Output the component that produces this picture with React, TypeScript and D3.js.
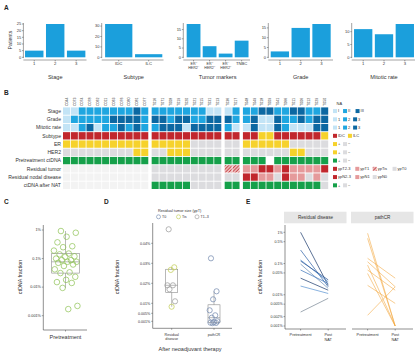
import React from 'react';
import * as d3 from 'd3';

const FONT = 'Liberation Sans, Arial, Helvetica, sans-serif';
const BAR = '#1b9fdc';
const AX = '#444';
const TXT = '#333';

// ---------- Panel A data ----------
const stageCats = ['1', '2', '3'];
const stageCounts = [5, 25, 5];
const subtypeCats = ['IDC', 'ILC'];
const subtypeCounts = [32, 3];
const markerCats = ['ER+HER2-', 'ER+HER2+', 'ER-HER2+', 'TNBC'];
const markerCounts = [18, 6, 2, 9];
const markerLabels = [['ER⁺', 'HER2⁻'], ['ER⁺', 'HER2⁺'], ['ER⁻', 'HER2⁺'], ['TNBC']];
const gradeCats = ['1', '2', '3'];
const gradeCounts = [3, 15, 17];
const mitoticCats = ['1', '2', '3'];
const mitoticCounts = [11, 9, 13];

// ---------- Panel B data ----------
const groupSizes = [11, 9, 2, 11];
const colIds = [
  'C044', 'C073', 'C074', 'C078', 'C062', 'C011', 'C063', 'C076', 'C080', 'C081', 'C077',
  'T016', 'T071', 'T008', 'T019', 'T020', 'T021', 'T015', 'T031', 'T013',
  'T036', 'T017',
  'T048', 'T049', 'T018', 'T009', 'T041', 'T066', 'T011', 'T006', 'T012', 'T029', 'T050',
];
const stageRow = ['1','1','2','2','2','2','2','2','2','3','2', '2','2','2','2','2','2','2','1','1', '1','2', '2','2','3','3','2','2','3','3','2','2','3'];
const gradeRow = ['1','2','2','2','2','2','3','3','3','3','2', '3','3','2','3','3','2','2','3','3', '3','2', '2','3','1','1','3','2','2','3','2','3','3'];
const mitoticRow = ['1','1','2','3','1','2','2','3','2','3','2', '2','3','3','3','1','3','3','3','3', '2','1', '1','3','1','1','3','2','1','1','1','3','3'];
const subtypeRow = ['IDC','IDC','IDC','IDC','IDC','IDC','IDC','IDC','IDC','IDC','IDC', 'IDC','IDC','IDC','IDC','IDC','IDC','IDC','IDC','IDC', 'IDC','IDC', 'IDC','IDC','ILC','ILC','IDC','IDC','IDC','IDC','IDC','IDC','ILC'];
const erRow = ['+','+','+','+','+','+','+','+','+','+','+', '+','+','+','+','+','-','-','-','-', '-','-', '+','+','+','+','+','+','-','-','-','-','-'];
const her2Row = ['-','-','-','-','-','-','-','-','-','+','+', '-','-','+','+','+','-','-','-','-', '-','-', '-','-','-','-','-','-','+','+','-','-','-'];
const pretxRow = ['+','+','+','+','+','+','+','+','+','+','+', '+','+','+','+','+','+','+','+','+', '+','+', '+','+','+','NA','+','+','+','+','+','+','+'];
const residRow = ['NA','NA','NA','NA','NA','NA','NA','NA','NA','NA','NA', 'T0','T0','T0','T0','T0','T0','T0','T0','T0', 'Tis','Tis', 'T1','T1','T23','T23','T1','T23','T1','T1','T1','T1','T23'];
const nodalRow = ['NA','NA','NA','NA','NA','NA','NA','NA','NA','NA','NA', 'N0','N0','N0','N0','N0','N0','N0','N0','N0', 'N0','N0', 'N23','N23','N1','N1','N0','N23','N1','N1','N0','N1','N0'];
const afterRow = ['NA','NA','NA','NA','NA','NA','NA','NA','NA','NA','NA', '+','+','+','+','+','-','-','-','-', '+','+', '+','+','+','+','+','+','+','+','+','+','-'];

// ---------- Panel C data (ctDNA fraction, %) ----------
const pretreatmentCtDNA = [0.92, 0.80, 0.58, 0.37, 0.27, 0.25, 0.19, 0.15, 0.14, 0.12, 0.116, 0.10, 0.088, 0.088, 0.077, 0.077, 0.071, 0.062, 0.055, 0.042, 0.033, 0.031, 0.023, 0.018, 0.015, 0.014, 0.0094, 0.0022, 0.0017];

// ---------- Panel D data ----------
const rdValues = [0.047, 0.028, 0.0267, 0.019, 0.019, 0.017, 0.011, 0.0083];
const rdSize = ['T1–3', 'Tis', 'Tis', 'T1–3', 'T1–3', 'T1–3', 'T1–3', 'Tis'];
const pcrValues = [0.0325, 0.016, 0.012, 0.0065, 0.004, 0.0028, 0.001, 0.0006, 0.0003, 0.0002, 0.0001];
const sizeLevels = ['T0', 'Tis', 'T1–3'];

// ---------- Panel E data ----------
const timepoints = ['Pretreatment', 'Post NAT'];
const rdPre = [1.0, 0.27, 0.13, 0.12, 0.096, 0.062, 0.034, 0.019, 0.0028];
const rdPost = [0.02, 0.018, 0.026, 0.03, 0.016, 0.023, 0.014, 0.011, 0.0077];
const pcrPre = [0.93, 0.64, 0.147, 0.114, 0.089, 0.062, 0.048, 0.02, 0.0022];
const pcrPost = [0.001, 0.001, 0.034, 0.018, 0.001, 0.014, 0.001, 0.0053, 0.018];

// ---------- colours ----------
const LV: Record<string, string> = { '1': '#c3e4f6', '2': '#1fa6e0', '3': '#0c68a2' };
const RED = '#c1272d';
const YEL = '#f6d22c';
const GRY = '#dcdcdf';
const GRN = '#15a04a';
const PINK = '#e59a9b';
const NAC = '#f3f3f3';

function BarChart(props: { cats: string[]; counts: number[]; labels: string[][]; title: string; range: [number, number]; axisX: number; axisEnd: number; ticks: number[]; pad: number }) {
  const { cats, counts, labels, title, range, axisX, axisEnd, ticks, pad } = props;
  const max = d3.max(counts) as number;
  const y = d3.scaleLinear().domain([0, max]).range([57.3, 24]);
  const x = d3.scaleBand<string>().domain(cats).range(range).paddingInner(pad).paddingOuter(0.03);
  return (
    <g>
      {cats.map((c, i) => (
        <rect key={c} x={x(c)} y={y(counts[i])} width={x.bandwidth()} height={y(0) - y(counts[i])} fill={BAR} />
      ))}
      <line x1={axisX} x2={axisX} y1={y(max) - 1} y2={y(0) + 0.8} stroke={AX} strokeWidth={0.5} />
      {ticks.map((t) => (
        <g key={t}>
          <line x1={axisX - 1.4} x2={axisX} y1={y(t)} y2={y(t)} stroke={AX} strokeWidth={0.5} />
          <text x={axisX - 2.2} y={y(t) + 1.4} fontSize={4} textAnchor="end" fill={TXT}>{t}</text>
        </g>
      ))}
      <line x1={axisX} x2={axisEnd} y1={60} y2={60} stroke={AX} strokeWidth={0.5} />
      {cats.map((c, i) => {
        const cx = (x(c) as number) + x.bandwidth() / 2;
        return (
          <g key={c}>
            <line x1={cx} x2={cx} y1={60} y2={61.4} stroke={AX} strokeWidth={0.5} />
            {labels[i].map((l, j) => (
              <text key={j} x={cx} y={64.6 + j * 4.3} fontSize={labels[i].length > 1 ? 3.6 : 4.2} textAnchor="middle" fill={TXT}>{l}</text>
            ))}
          </g>
        );
      })}
      <text x={(range[0] + range[1]) / 2} y={78.6} fontSize={5.6} textAnchor="middle" fill={TXT}>{title}</text>
    </g>
  );
}

function boxStats(vals: number[], tf: (v: number) => number) {
  const t = vals.map(tf).sort(d3.ascending);
  const q1 = d3.quantile(t, 0.25) as number;
  const med = d3.quantile(t, 0.5) as number;
  const q3 = d3.quantile(t, 0.75) as number;
  const iqr = q3 - q1;
  const lo = d3.min(t.filter((v) => v >= q1 - 1.5 * iqr)) as number;
  const hi = d3.max(t.filter((v) => v <= q3 + 1.5 * iqr)) as number;
  return { q1, med, q3, lo, hi };
}

const jit = (i: number, w: number) => (((i * 0.6180339 + 0.31) % 1) - 0.5) * w;

export default function App() {
  // ----- Panel B scales -----
  const rowLabels = ['Stage', 'Grade', 'Mitotic rate', 'Subtype', 'ER', 'HER2', 'Pretreatment ctDNA', 'Residual tumor', 'Residual nodal disease', 'ctDNA after NAT'];
  const rowVals = [stageRow, gradeRow, mitoticRow, subtypeRow, erRow, her2Row, pretxRow, residRow, nodalRow, afterRow];
  const rowColor = (r: number, v: string) => {
    if (v === 'NA') return r === 6 ? '#ffffff' : NAC;
    if (r <= 2) return LV[v];
    if (r === 3) return v === 'IDC' ? RED : YEL;
    if (r === 4 || r === 5) return v === '+' ? YEL : GRY;
    if (r === 6 || r === 9) return v === '+' ? GRN : GRY;
    if (v === 'T23' || v === 'N23') return RED;
    if (v === 'T1' || v === 'N1') return PINK;
    if (v === 'Tis') return 'url(#hatch)';
    return GRY;
  };
  const groupOf: number[] = [];
  groupSizes.forEach((n, g) => { for (let k = 0; k < n; k++) groupOf.push(g); });
  const xCol = d3.scaleBand<string>().domain(colIds).range([63, 63 + 33 * 7.8]).paddingInner(0.1);
  const colX = (i: number) => (xCol(colIds[i]) as number) + groupOf[i] * 2.6;
  const yRow = d3.scaleBand<string>().domain(rowLabels).range([107.4, 107.4 + 81.6]).paddingInner(0.11);

  const legendRows: [string, string][][] = [
    [[LV['1'], 'I'], [LV['2'], 'II'], [LV['3'], 'III']],
    [[LV['1'], '1'], [LV['2'], '2'], [LV['3'], '3']],
    [[LV['1'], '1'], [LV['2'], '2'], [LV['3'], '3']],
    [[RED, 'IDC'], [YEL, 'ILC']],
    [[YEL, '+'], [GRY, '−']],
    [[YEL, '+'], [GRY, '−']],
    [[GRN, '+'], [GRY, '−']],
    [[RED, 'ypT2-3'], [PINK, 'ypT1'], ['url(#hatch)', 'ypTis'], [GRY, 'ypT0']],
    [[RED, 'ypN2-3'], [PINK, 'ypN1'], [GRY, 'ypN0']],
    [[GRN, '+'], [GRY, '−']],
  ];

  // ----- Panel C -----
  const yC = d3.scaleLog().domain([0.001, 1]).range([315.7, 230]);
  const cStats = boxStats(pretreatmentCtDNA, Math.log10);
  const cX = 65.5;

  // ----- Panel D -----
  const yD = d3.scaleLinear().domain([0, 0.04]).range([323.3, 243.3]);
  const xD = d3.scalePoint<string>().domain(['Residual disease', 'pathCR']).range([171.7, 214]);
  const sizeColor = d3.scaleOrdinal<string, string>().domain(sizeLevels).range(['#7f93b5', '#c6d163', '#a3a3a3']);
  const dTicks = [0.001, 0.005, 0.01, 0.02, 0.03, 0.04];
  const dGroups = [
    { key: 'Residual disease', vals: rdValues, sizes: rdSize },
    { key: 'pathCR', vals: pcrValues, sizes: pcrValues.map(() => 'T0') },
  ];

  // ----- Panel E -----
  const yE = d3.scaleLog().domain([0.001, 1]).range([326, 232.3]);
  const eTicks = [1, 0.5, 0.1, 0.05, 0.01, 0.005, 0.002, 0.001];
  const eFacets = [
    { key: 'Residual disease', x0: 285, pre: rdPre, post: rdPost },
    { key: 'pathCR', x0: 352, pre: pcrPre, post: pcrPost },
  ];
  const xE = d3.scalePoint<string>().domain(timepoints).range([15.6, 43.2]);
  const rdColors = ['#1d3c6e', '#2f63a8', '#4a86c8', '#24508f', '#6d8fb8', '#3b74bb', '#1d3c6e', '#5b94d3', '#7b8896'];
  const lineGen = d3.line<[number, number]>().x((d) => d[0]).y((d) => d[1]);

  const pct = (v: number) => `${v}%`;

  return (
    <svg width={416} height={358} style={{ position: 'absolute', left: 0, top: 0, background: '#fff' }} fontFamily={FONT}>
      <defs>
        <pattern id="hatch" patternUnits="userSpaceOnUse" width={2.4} height={2.4} patternTransform="rotate(45)">
          <rect width={2.4} height={2.4} fill="#eab8b8" />
          <line x1={0} y1={0} x2={0} y2={2.4} stroke="#c1272d" strokeWidth={1.3} />
        </pattern>
      </defs>

      {/* ================= A ================= */}
      <text x={4} y={10} fontSize={6.5} fontWeight="bold" fill="#222">A</text>
      <text transform="translate(11.5,40) rotate(-90)" fontSize={5.2} textAnchor="middle" fill={TXT}>Patients</text>
      <BarChart cats={stageCats} counts={stageCounts} labels={stageCats.map((c) => [c])} title="Stage" range={[24.4, 86]} axisX={23.4} axisEnd={86.5} ticks={[0, 5, 10, 15, 20, 25]} pad={0.12} />
      <BarChart cats={subtypeCats} counts={subtypeCounts} labels={subtypeCats.map((c) => [c])} title="Subtype" range={[104.2, 163.2]} axisX={101.7} axisEnd={163.5} ticks={[0, 10, 20, 30]} pad={0.09} />
      <BarChart cats={markerCats} counts={markerCounts} labels={markerLabels} title="Tumor markers" range={[186.2, 249]} axisX={183.3} axisEnd={250} ticks={[0, 5, 10, 15]} pad={0.14} />
      <BarChart cats={gradeCats} counts={gradeCounts} labels={gradeCats.map((c) => [c])} title="Grade" range={[270.1, 331.3]} axisX={268.3} axisEnd={333} ticks={[0, 5, 10, 15]} pad={0.12} />
      <BarChart cats={mitoticCats} counts={mitoticCounts} labels={mitoticCats.map((c) => [c])} title="Mitotic rate" range={[353.4, 414.6]} axisX={351.7} axisEnd={415} ticks={[0, 5, 10]} pad={0.12} />

      {/* ================= B ================= */}
      <text x={4} y={95} fontSize={6.5} fontWeight="bold" fill="#222">B</text>
      {colIds.map((id, i) => (
        <text key={id} transform={`translate(${colX(i) + xCol.bandwidth() / 2 + 1.3},106) rotate(-90)`} fontSize={3.6} fill={TXT}>{id}</text>
      ))}
      {rowLabels.map((lab, r) => (
        <g key={lab}>
          <text x={61} y={(yRow(lab) as number) + yRow.bandwidth() / 2 + 1.8} fontSize={5.1} textAnchor="end" fill={TXT}>{lab}</text>
          {rowVals[r].map((v, i) => (
            <rect key={i} x={colX(i)} y={yRow(lab)} width={xCol.bandwidth()} height={yRow.bandwidth()} fill={rowColor(r, v)} />
          ))}
        </g>
      ))}
      <text x={336.5} y={105.3} fontSize={4} fill={TXT}>NA</text>
      {legendRows.map((items, r) => {
        const cy = (yRow(rowLabels[r]) as number) + yRow.bandwidth() / 2;
        let x = 333;
        return (
          <g key={r}>
            {items.map(([col, lab], k) => {
              const x0 = x;
              x += 5 + lab.length * 2.45 + 2.6;
              return (
                <g key={k}>
                  <rect x={x0} y={cy - 2} width={4} height={4} fill={col} />
                  <text x={x0 + 5} y={cy + 1.4} fontSize={4} fill={TXT}>{lab}</text>
                </g>
              );
            })}
          </g>
        );
      })}

      {/* ================= C ================= */}
      <text x={4} y={204} fontSize={6.5} fontWeight="bold" fill="#222">C</text>
      <text transform="translate(22,277) rotate(-90)" fontSize={5.4} textAnchor="middle" fill={TXT}>ctDNA fraction</text>
      <line x1={43.3} x2={43.3} y1={225} y2={330} stroke={AX} strokeWidth={0.6} />
      <line x1={43.3} x2={87} y1={330} y2={330} stroke={AX} strokeWidth={0.6} />
      {[1, 0.1, 0.01, 0.001].map((t) => (
        <g key={t}>
          <line x1={41.8} x2={43.3} y1={yC(t)} y2={yC(t)} stroke={AX} strokeWidth={0.5} />
          <text x={41} y={yC(t) + 1.3} fontSize={3.8} textAnchor="end" fill={TXT}>{pct(t)}</text>
        </g>
      ))}
      <line x1={cX} x2={cX} y1={330} y2={331.5} stroke={AX} strokeWidth={0.5} />
      <text x={cX} y={339} fontSize={5.5} textAnchor="middle" fill={TXT}>Pretreatment</text>
      <g stroke="#8a8a8a" strokeWidth={0.6} fill="none">
        <line x1={cX} x2={cX} y1={yC(10 ** cStats.hi)} y2={yC(10 ** cStats.q3)} />
        <line x1={cX} x2={cX} y1={yC(10 ** cStats.q1)} y2={yC(10 ** cStats.lo)} />
        <rect x={cX - 13.8} width={27.6} y={yC(10 ** cStats.q3)} height={yC(10 ** cStats.q1) - yC(10 ** cStats.q3)} />
        <line x1={cX - 13.8} x2={cX + 13.8} y1={yC(10 ** cStats.med)} y2={yC(10 ** cStats.med)} />
      </g>
      {pretreatmentCtDNA.map((v, i) => (
        <circle key={i} cx={cX + jit(i, 24)} cy={yC(v)} r={2.8} fill="none" stroke="#8cc152" strokeWidth={0.7} />
      ))}

      {/* ================= D ================= */}
      <text x={104} y={204} fontSize={6.5} fontWeight="bold" fill="#222">D</text>
      <text x={158} y={211.6} fontSize={3.8} fill={TXT}>Residual tumor size (ypT)</text>
      {sizeLevels.map((s, k) => {
        const lx = [158.5, 178.5, 197][k];
        return (
          <g key={s}>
            <circle cx={lx} cy={216.8} r={2} fill="none" stroke={sizeColor(s)} strokeWidth={0.7} />
            <text x={lx + 3.5} y={218.2} fontSize={3.6} fill={TXT}>{s}</text>
          </g>
        );
      })}
      <text transform="translate(119,277) rotate(-90)" fontSize={5.4} textAnchor="middle" fill={TXT}>ctDNA fraction</text>
      <line x1={152.7} x2={152.7} y1={223} y2={328.3} stroke={AX} strokeWidth={0.6} />
      <line x1={152.7} x2={232} y1={328.3} y2={328.3} stroke={AX} strokeWidth={0.6} />
      {dTicks.map((t) => (
        <g key={t}>
          <line x1={151.2} x2={152.7} y1={yD(t)} y2={yD(t)} stroke={AX} strokeWidth={0.5} />
          <text x={150.3} y={yD(t) + 1.3} fontSize={3.6} textAnchor="end" fill={TXT}>{pct(t)}</text>
        </g>
      ))}
      {dGroups.map((g) => {
        const cx = xD(g.key) as number;
        const s = boxStats(g.vals, (v) => v);
        return (
          <g key={g.key}>
            <g stroke="#8a8a8a" strokeWidth={0.6} fill="none">
              <line x1={cx} x2={cx} y1={yD(s.hi)} y2={yD(s.q3)} />
              <line x1={cx} x2={cx} y1={yD(s.q1)} y2={yD(s.lo)} />
              <rect x={cx - 6} width={12} y={yD(s.q3)} height={yD(s.q1) - yD(s.q3)} />
              <line x1={cx - 6} x2={cx + 6} y1={yD(s.med)} y2={yD(s.med)} />
            </g>
            {g.vals.map((v, i) => (
              <circle key={i} cx={cx + jit(i + 3, 9)} cy={yD(v)} r={2.6} fill="none" stroke={sizeColor(g.sizes[i])} strokeWidth={0.8} />
            ))}
            <line x1={cx} x2={cx} y1={328.3} y2={329.8} stroke={AX} strokeWidth={0.5} />
          </g>
        );
      })}
      <text x={xD('Residual disease')} y={335.8} fontSize={3.7} textAnchor="middle" fill={TXT}>Residual</text>
      <text x={xD('Residual disease')} y={340.2} fontSize={3.7} textAnchor="middle" fill={TXT}>disease</text>
      <text x={xD('pathCR')} y={335.8} fontSize={3.7} textAnchor="middle" fill={TXT}>pathCR</text>
      <text x={190} y={350.5} fontSize={5.5} textAnchor="middle" fill={TXT}>After neoadjuvant therapy</text>

      {/* ================= E ================= */}
      <text x={246} y={204} fontSize={6.5} fontWeight="bold" fill="#222">E</text>
      <text transform="translate(262,277) rotate(-90)" fontSize={5.4} textAnchor="middle" fill={TXT}>ctDNA fraction</text>
      <line x1={285} x2={285} y1={225} y2={329} stroke={AX} strokeWidth={0.6} />
      {eTicks.map((t) => (
        <g key={t}>
          <line x1={283.5} x2={285} y1={yE(t)} y2={yE(t)} stroke={AX} strokeWidth={0.5} />
          <text x={282.6} y={yE(t) + 1.3} fontSize={3.6} textAnchor="end" fill={TXT}>{pct(t)}</text>
        </g>
      ))}
      {eFacets.map((f, fi) => (
        <g key={f.key}>
          <rect x={f.x0 - 1} y={211.7} width={62.5} height={11.6} fill="#e6e6e6" />
          <text x={f.x0 + 30.5} y={219.3} fontSize={4.6} textAnchor="middle" fill={TXT}>{f.key}</text>
          <line x1={f.x0} x2={f.x0 + 61} y1={329} y2={329} stroke={AX} strokeWidth={0.6} />
          {timepoints.map((tp) => {
            const tx = f.x0 + (xE(tp) as number);
            const parts = tp === 'Post NAT' ? ['Post', 'NAT'] : [tp];
            return (
              <g key={tp}>
                <line x1={tx} x2={tx} y1={329} y2={330.5} stroke={AX} strokeWidth={0.5} />
                {parts.map((p, j) => (
                  <text key={j} x={tx} y={336.2 + j * 4.4} fontSize={3.8} textAnchor="middle" fill={TXT}>{p}</text>
                ))}
              </g>
            );
          })}
          {f.pre.map((v, i) => (
            <path
              key={i}
              d={lineGen([
                [f.x0 + (xE('Pretreatment') as number), yE(v)],
                [f.x0 + (xE('Post NAT') as number), yE(f.post[i])],
              ]) as string}
              fill="none"
              stroke={fi === 0 ? rdColors[i] : '#f2a53a'}
              strokeOpacity={fi === 0 ? 0.9 : 0.7}
              strokeWidth={0.8}
            />
          ))}
        </g>
      ))}
    </svg>
  );
}
